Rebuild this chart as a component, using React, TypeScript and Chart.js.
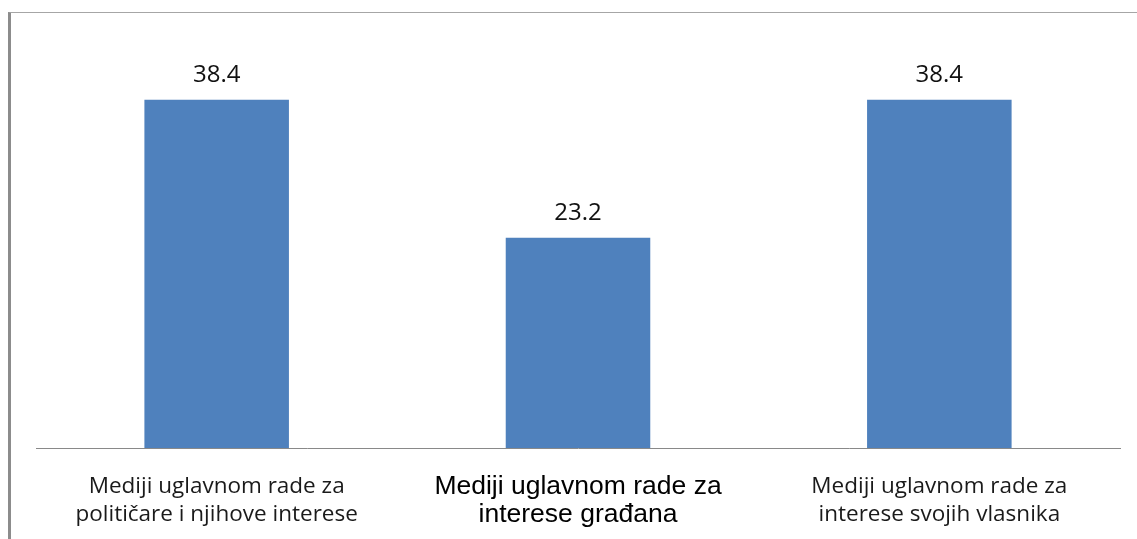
import React, { useEffect, useRef } from "react";
import { Chart, registerables } from "chart.js";

Chart.register(...registerables);

const categories: string[][] = [
  ["Mediji uglavnom rade za", "političare i njihove interese"],
  ["Mediji uglavnom rade za", "interese građana"],
  ["Mediji uglavnom rade za", "interese svojih vlasnika"],
];
const values: number[] = [38.4, 23.2, 38.4];
const valueLabels: string[] = ["38.4", "23.2", "38.4"];

const valueLabelPlugin = {
  id: "valueLabels",
  afterDatasetsDraw(chart: any) {
    const ctx = chart.ctx;
    const meta = chart.getDatasetMeta(0);
    ctx.save();
    ctx.font = "24px 'Open Sans'";
    ctx.fillStyle = "#111111";
    ctx.textAlign = "center";
    ctx.textBaseline = "alphabetic";
    meta.data.forEach((bar: any, i: number) => {
      ctx.fillText(valueLabels[i], bar.x, bar.y - 18);
    });
    ctx.restore();
  },
};

export default function App() {
  const canvasRef = useRef<HTMLCanvasElement | null>(null);

  useEffect(() => {
    if (!canvasRef.current) return;
    const chart = new Chart(canvasRef.current, {
      type: "bar",
      data: {
        labels: categories,
        datasets: [
          {
            data: values,
            backgroundColor: "#4F81BD",
            borderWidth: 0,
            categoryPercentage: 1,
            barPercentage: 0.4,
          },
        ],
      },
      options: {
        animation: false,
        responsive: false,
        maintainAspectRatio: false,
        layout: { padding: { left: 25, right: 17, top: 27, bottom: 0 } },
        plugins: {
          legend: { display: false },
          tooltip: { enabled: false },
        },
        scales: {
          x: {
            grid: { display: false },
            border: { display: true, color: "#898989", width: 1 },
            afterFit(scale: any) {
              scale.height = 91;
            },
            ticks: {
              padding: 17,
              maxRotation: 0,
              autoSkip: false,
              color: (c: any) => (c.index === 1 ? "#000000" : "#1a1a1a"),
              font: (c: any) =>
                c.index === 1
                  ? { family: "'Liberation Sans'", size: 26.5, lineHeight: 28 / 26.5 }
                  : { family: "'Open Sans'", size: 22.5, lineHeight: 28 / 22.5 },
            },
          },
          y: {
            display: false,
            min: 0,
            max: 45,
          },
        },
      },
      plugins: [valueLabelPlugin],
    });
    return () => chart.destroy();
  }, []);

  return (
    <div
      style={{
        position: "fixed",
        top: 12,
        left: 8,
        width: 1126,
        height: 526,
        borderTop: "1px solid #a6a6a6",
        borderLeft: "3px solid #8c8c8c",
      }}
    >
      <canvas ref={canvasRef} width={1126} height={526} style={{ display: "block" }} />
    </div>
  );
}
